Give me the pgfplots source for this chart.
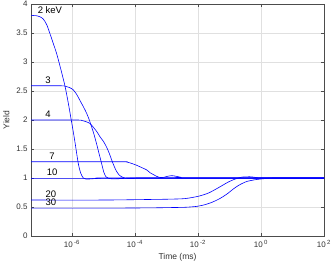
\documentclass[border=0pt]{standalone}
\usepackage{pgfplots}
\pgfplotsset{compat=1.18}
\usepackage{fontspec}
\setmainfont{Liberation Sans}
\begin{document}
\begin{tikzpicture}
\begin{axis}[
  scale only axis, width=293pt, height=232pt,
  xmin=-7.30103, xmax=2, ymin=0, ymax=4,
  xtick={-6,-4,-2,0,2},
  xticklabels={10\,\textsuperscript{-6},10\,\textsuperscript{-4},10\,\textsuperscript{-2},10\,\textsuperscript{0},10\,\textsuperscript{2}},
  ytick={0,0.5,1,1.5,2,2.5,3,3.5,4},
  yticklabels={0,0.5,1,1.5,2,2.5,3,3.5,4},
  grid=major, grid style={black!12, line width=0.4pt},
  tick align=inside, tick pos=both, major tick length=3pt,
  axis line style={black!70, line width=0.5pt},
  tick style={black!70, line width=0.5pt},
  ticklabel style={font=\fontsize{8}{9}\selectfont, text=black!80},
  xticklabel style={yshift=-1pt},
  xlabel={Time (ms)}, ylabel={Yield},
  label style={font=\fontsize{8.5}{9}\selectfont, text=black!80},
  xlabel style={yshift=1pt},
  every axis plot/.append style={line width=0.6pt, smooth, tension=0.45},
  clip=true,
]
% 2 keV
\addplot[blue, mark=none] coordinates {(-7.30103,3.80) (-7.15,3.80) (-7.02,3.78) (-6.91,3.74) (-6.80,3.64) (-6.70,3.49) (-6.60,3.33) (-6.49,3.15) (-6.40,2.97) (-6.31,2.78) (-6.22,2.58) (-6.12,2.30) (-6.03,2.02) (-5.96,1.80) (-5.90,1.60) (-5.80,1.25) (-5.72,1.08) (-5.64,1.00) (-5.55,0.98) (-5.40,0.985) (-5.10,0.995) (-4.8,1.0) (2,1.0)};
% 3 keV
\addplot[blue, mark=none] coordinates {(-7.30103,2.59) (-6.35,2.59) (-6.20,2.58) (-6.08,2.56) (-5.96,2.52) (-5.85,2.44) (-5.75,2.34) (-5.63,2.22) (-5.53,2.11) (-5.45,2.00) (-5.37,1.87) (-5.30,1.75) (-5.22,1.59) (-5.14,1.42) (-5.06,1.25) (-4.99,1.10) (-4.92,1.02) (-4.84,0.995) (-4.70,0.985) (-4.40,0.99) (-4.0,1.0) (2,1.0)};
% 4 keV
\addplot[blue, mark=none] coordinates {(-7.30103,2.00) (-5.85,2.00) (-5.68,1.99) (-5.55,1.97) (-5.43,1.94) (-5.30,1.86) (-5.20,1.79) (-5.11,1.71) (-5.00,1.63) (-4.90,1.53) (-4.82,1.43) (-4.74,1.31) (-4.66,1.20) (-4.58,1.11) (-4.50,1.05) (-4.42,1.02) (-4.30,0.995) (-4.10,0.99) (-3.7,1.0) (2,1.0)};
% 7 keV
\addplot[blue, mark=none] coordinates {(-7.30103,1.28) (-4.45,1.28) (-4.26,1.275) (-4.10,1.25) (-3.95,1.22) (-3.79,1.18) (-3.63,1.14) (-3.52,1.09) (-3.42,1.06) (-3.32,1.03) (-3.22,1.01) (-3.10,1.01) (-2.96,1.03) (-2.83,1.04) (-2.70,1.03) (-2.57,1.015) (-2.40,1.0) (2,1.0)};
% 10 keV
\addplot[blue, mark=none] coordinates {(-7.30103,1.0) (2,1.0)};
% 20 keV
\addplot[blue, mark=none] coordinates {(-7.30103,0.62) (-5.0,0.62) (-3.5,0.63) (-2.9,0.635) (-2.41,0.645) (-1.99,0.685) (-1.67,0.74) (-1.36,0.83) (-1.04,0.93) (-0.83,0.98) (-0.61,1.015) (-0.45,1.02) (-0.30,1.02) (-0.12,1.005) (0.1,1.0) (2,1.0)};
% 30 keV
\addplot[blue, mark=none] coordinates {(-7.30103,0.48) (-5.0,0.48) (-3.5,0.485) (-2.9,0.49) (-2.41,0.495) (-2.05,0.51) (-1.78,0.54) (-1.56,0.58) (-1.36,0.63) (-1.20,0.68) (-1.04,0.74) (-0.88,0.81) (-0.72,0.87) (-0.58,0.91) (-0.45,0.94) (-0.19,0.97) (0.13,0.99) (0.45,1.0) (2,1.0)};
\begin{scope}[every node/.style={font=\fontsize{9.5}{10}\selectfont, inner sep=0pt, anchor=base}]
\node at (axis cs:-6.70,3.84) {2 keV};
\node at (axis cs:-6.76,2.63) {3};
\node at (axis cs:-6.76,2.04) {4};
\node at (axis cs:-6.63,1.32) {7};
\node at (axis cs:-6.63,1.04) {10};
\node at (axis cs:-6.67,0.66) {20};
\node at (axis cs:-6.67,0.52) {30};
\end{scope}
\end{axis}
\pgfresetboundingbox
\path (current axis.south west) ++(-31pt,-29pt) rectangle ([xshift=9pt,yshift=4pt]current axis.north east);
\end{tikzpicture}
\end{document}
